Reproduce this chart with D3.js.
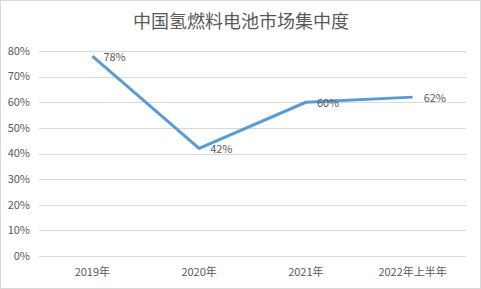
<!DOCTYPE html>
<html>
<head>
<meta charset="utf-8">
<script src="https://cdn.jsdelivr.net/npm/d3@7"></script>
<style>
    body { margin: 0; background: #fff; }
    text { font-family: "Microsoft YaHei", "Noto Sans CJK SC", sans-serif; fill: #595959; }
</style>
</head>
<body>
<script>
const categories = ["2019年", "2020年", "2021年", "2022年上半年"];
const shares = [0.78, 0.42, 0.60, 0.62];
const yTicks = [0, 0.1, 0.2, 0.3, 0.4, 0.5, 0.6, 0.7, 0.8];
const title = "中国氢燃料电池市场集中度";

const width = 481, height = 289;
const margin = {top: 51, right: 15, bottom: 33, left: 39};

const svg = d3.select("body").append("svg")
    .attr("width", width)
    .attr("height", height);

svg.append("rect")
    .attr("x", 0.5).attr("y", 0.5)
    .attr("width", width - 1).attr("height", height - 1)
    .attr("fill", "#fff")
    .attr("stroke", "#d9d9d9");

svg.append("text")
    .attr("x", 241).attr("y", 28)
    .attr("text-anchor", "middle")
    .attr("font-size", 18)
    .text(title);

const x = d3.scaleBand()
    .domain(categories)
    .range([margin.left, width - margin.right]);

const y = d3.scaleLinear()
    .domain([0, 0.8])
    .range([height - margin.bottom, margin.top]);

// gridlines
svg.append("g")
    .selectAll("line")
    .data(yTicks)
    .join("line")
    .attr("x1", margin.left).attr("x2", width - margin.right)
    .attr("y1", d => Math.round(y(d)) + 0.5)
    .attr("y2", d => Math.round(y(d)) + 0.5)
    .attr("stroke", "#d9d9d9");

// y labels
svg.append("g")
    .selectAll("text")
    .data(yTicks)
    .join("text")
    .attr("x", 30)
    .attr("y", d => y(d))
    .attr("dy", "0.35em")
    .attr("text-anchor", "end")
    .attr("font-size", 11)
    .text(d => d3.format(".0%")(d));

// x labels
svg.append("g")
    .selectAll("text")
    .data(categories)
    .join("text")
    .attr("x", d => x(d) + x.bandwidth() / 2)
    .attr("y", height - margin.bottom + 16)
    .attr("dy", "0.35em")
    .attr("text-anchor", "middle")
    .attr("font-size", 11)
    .text(d => d);

const pts = categories.map((c, i) => ({c: c, v: shares[i]}));

svg.append("path")
    .datum(pts)
    .attr("fill", "none")
    .attr("stroke", "#5b9bd5")
    .attr("stroke-width", 3)
    .attr("stroke-linejoin", "round")
    .attr("d", d3.line()
        .x(d => x(d.c) + x.bandwidth() / 2)
        .y(d => y(d.v)));

svg.append("g")
    .selectAll("text")
    .data(pts)
    .join("text")
    .attr("x", d => x(d.c) + x.bandwidth() / 2 + 11)
    .attr("y", d => y(d.v) + 1)
    .attr("dy", "0.35em")
    .attr("font-size", 11)
    .attr("fill", "#404040")
    .text(d => d3.format(".0%")(d.v));
</script>
</body>
</html>
